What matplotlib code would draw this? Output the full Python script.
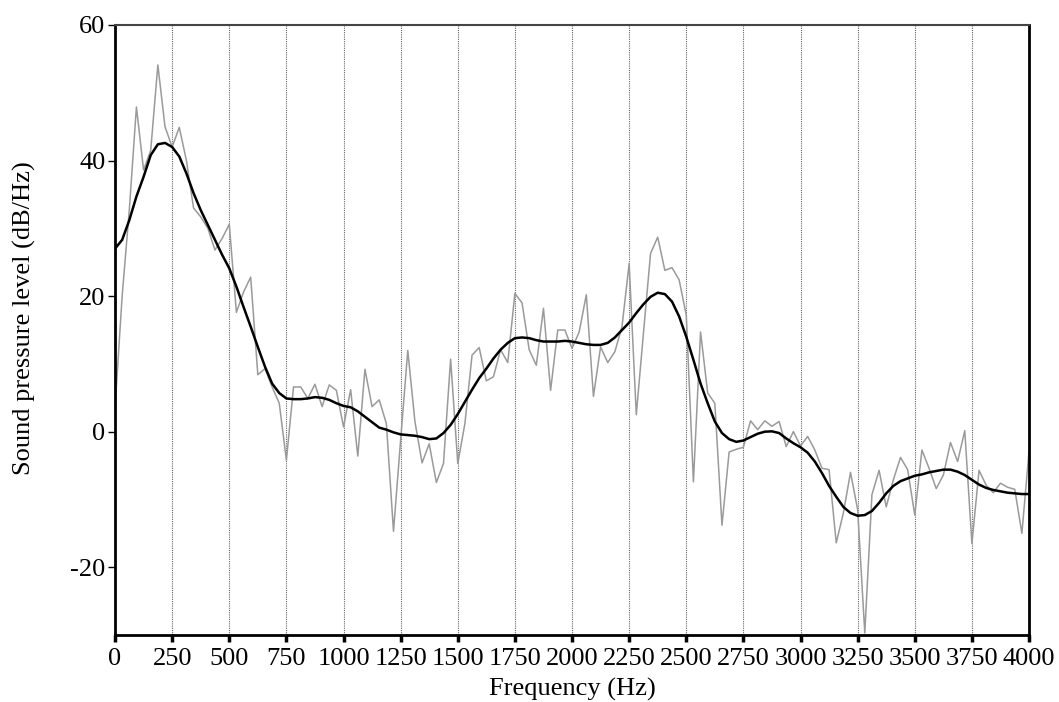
import numpy as np
import matplotlib
matplotlib.use('Agg')
import matplotlib.pyplot as plt

# spectrum, one bin every 31.25 Hz
bin_hz = 31.25

raw_db = [3.5, 20.0, 32.7, 47.9, 38.6, 41.5, 54.1, 45.0, 42.0, 44.9,
          40.0, 33.0, 31.7, 30.0, 26.8, 28.5, 30.6, 17.6, 20.6, 22.8,
          8.4, 9.3, 6.6, 4.2, -4.2, 6.6, 6.6, 4.9, 7.0, 3.7,
          6.9, 6.1, 0.7, 6.2, -3.6, 9.2, 3.7, 4.7, 1.2, -14.7,
          -1.2, 12.0, 1.5, -4.6, -1.8, -7.5, -4.7, 10.7, -4.7, 1.2,
          11.3, 12.4, 7.5, 8.1, 12.1, 10.2, 20.4, 19.0, 12.1, 9.8,
          18.2, 6.1, 15.0, 15.0, 12.3, 14.7, 20.2, 5.2, 12.5, 10.2,
          11.8, 15.5, 24.8, 2.5, 14.5, 26.3, 28.7, 23.8, 24.2, 22.4,
          17.2, -7.4, 14.7, 5.7, 4.2, -13.8, -3.0, -2.6, -2.3, 1.6,
          0.3, 1.6, 0.8, 1.5, -2.2, 0.0, -2.1, -0.7, -2.7, -5.4,
          -5.6, -16.4, -12.0, -6.0, -11.5, -29.7, -9.3, -5.7, -11.1, -7.1,
          -3.8, -5.6, -12.3, -2.7, -5.4, -8.4, -6.4, -1.6, -4.4, 0.15,
          -16.5, -5.7, -7.9, -9.0, -7.6, -8.2, -8.5, -15.0, -2.9]

smooth_db = [27.0, 28.3, 31.2, 34.7, 37.6, 40.8, 42.4, 42.6, 42.0, 40.6,
             38.1, 35.2, 32.7, 30.5, 28.3, 26.1, 24.1, 21.4, 18.4, 15.5,
             12.5, 9.6, 7.1, 5.7, 4.9, 4.8, 4.8, 4.9, 5.1, 5.0,
             4.7, 4.2, 3.8, 3.6, 3.0, 2.2, 1.4, 0.6, 0.3, -0.1,
             -0.4, -0.5, -0.6, -0.8, -1.1, -1.0, -0.2, 1.0, 2.6, 4.4,
             6.2, 7.9, 9.3, 10.8, 12.1, 13.1, 13.8, 13.9, 13.8, 13.5,
             13.3, 13.3, 13.3, 13.4, 13.3, 13.1, 12.9, 12.8, 12.8, 13.1,
             13.9, 15.0, 16.1, 17.5, 18.8, 19.9, 20.5, 20.3, 19.2, 17.0,
             14.0, 10.6, 7.1, 4.2, 1.5, -0.2, -1.1, -1.5, -1.3, -0.8,
             -0.3, 0.0, 0.05, -0.2, -1.0, -1.7, -2.3, -3.1, -4.4, -6.1,
             -8.0, -9.6, -11.1, -12.0, -12.4, -12.3, -11.7, -10.5, -9.1, -8.0,
             -7.3, -6.9, -6.5, -6.3, -6.0, -5.8, -5.6, -5.6, -5.9, -6.4,
             -7.1, -7.8, -8.3, -8.6, -8.8, -9.0, -9.1, -9.2, -9.2]

freq = np.arange(len(raw_db)) * bin_hz
x_ticks = list(range(0, 4001, 250))
y_ticks = [-20, 0, 20, 40, 60]

plt.rcParams['font.family'] = ['Liberation Serif', 'DejaVu Serif']
plt.rcParams['axes.unicode_minus'] = False  # "-20" with a plain hyphen

fig = plt.figure(figsize=(10.59, 7.02), dpi=100)
ax = fig.add_axes([0.1086, 0.0954, 0.8631, 0.869])

# dotted vertical grid
for xt in x_ticks[1:-1]:
    ax.axvline(xt, color='#666666', lw=0.8, ls=(0, (1, 1)), zorder=1)

ax.plot(freq, raw_db, color='#9a9a9a', lw=1.1, zorder=2)
ax.plot(freq, smooth_db, color='black', lw=1.8, zorder=3)

ax.set_xlim(0, 4000)
ax.set_ylim(-30, 60)
ax.set_xticks(x_ticks)
ax.set_yticks(y_ticks)
ax.tick_params(axis='x', length=5, width=2.5, labelsize=19, pad=4)
ax.tick_params(axis='y', length=5, width=1, labelsize=19, pad=2)

for s in ['left', 'bottom', 'right']:
    ax.spines[s].set_linewidth(2)
ax.spines['top'].set_linewidth(1.5)
ax.spines['top'].set_color('#444444')

ax.set_xlabel('Frequency (Hz)', fontsize=19, labelpad=6)
ax.set_ylabel('Sound pressure level (dB/Hz)', fontsize=19)
ax.yaxis.set_label_coords(-0.086, 0.52)

fig.savefig('out.png', dpi=100)
